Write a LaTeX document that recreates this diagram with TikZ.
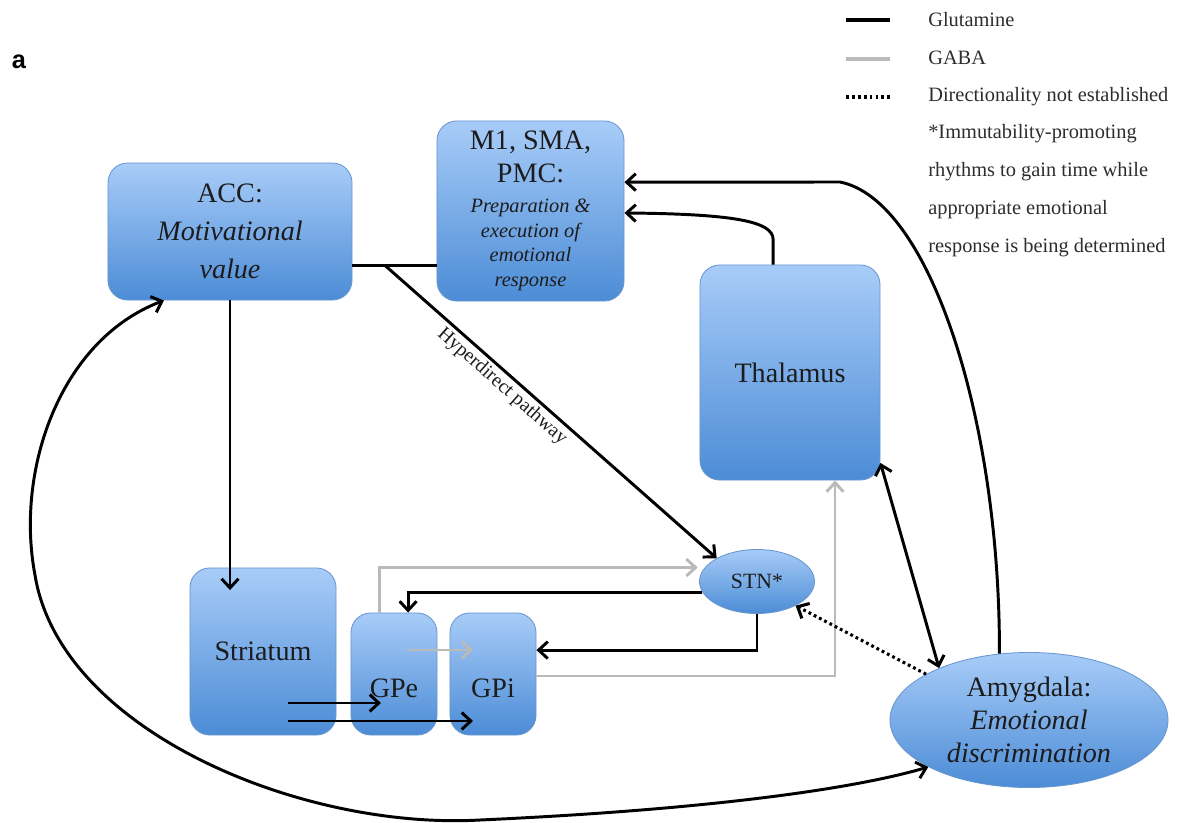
\documentclass[tikz,border=0pt]{standalone}
\usepackage{fontspec}
\setmainfont{Liberation Serif}
\newfontfamily\panelfont{Liberation Sans}
\usetikzlibrary{arrows.meta,shapes.geometric}
\definecolor{boxtop}{RGB}{168,204,248}
\definecolor{boxbot}{RGB}{76,140,214}
\definecolor{boxedge}{RGB}{104,150,206}
\definecolor{gabagray}{RGB}{186,186,186}
\definecolor{inktext}{RGB}{28,28,28}
\definecolor{legendtext}{RGB}{45,45,45}
\newcommand{\mlarge}{\fontsize{20}{17.7}\selectfont}
\newcommand{\msmall}{\fontsize{14.5}{17.7}\selectfont\itshape}

\begin{document}
\begin{tikzpicture}[x=0.025cm, y=-0.025cm,
    region/.style={rectangle,rounded corners=14pt,draw=boxedge,line width=0.6pt,
      top color=boxtop,bottom color=boxbot,text=inktext,align=center,inner sep=0pt},
    nucleus/.style={ellipse,draw=boxedge,line width=0.6pt,
      top color=boxtop,bottom color=boxbot,text=inktext,align=center,inner sep=0pt},
    big/.style={font=\fontsize{20}{27}\selectfont},
    tip/.style={-{Straight Barb[length=6.5pt,width=12pt]}},
    glu/.style={tip,line width=2.1pt,draw=black},
    gaba/.style={glu,draw=gabagray},
    undirected/.style={glu,dash pattern=on 2pt off 2.2pt,line width=2.2pt},
    both/.style={{Straight Barb[length=6.5pt,width=12pt]}-{Straight Barb[length=6.5pt,width=12pt]}},
    legend/.style={anchor=west,text=legendtext,font=\fontsize{14.5}{16}\selectfont,inner sep=0pt}]
  \useasboundingbox (0,0) rectangle (1183,822);

  % panel letter
  \node[font=\panelfont\bfseries\fontsize{18}{20}\selectfont] (panel) at (19,62) {a};

  % regions
  \node[region,big,minimum width=6.1cm,minimum height=3.425cm] (acc) at (230,231.5)
    {ACC:\\\itshape Motivational\\\itshape value};
  \node[region,minimum width=4.675cm,minimum height=4.5cm,
    font=\fontsize{14.5}{17.7}\selectfont] (m1) at (530.5,211)
    {\mlarge M1, SMA,\\[5.7pt]\mlarge PMC:\\[3.5pt]
     \msmall Preparation \&\\\msmall execution of\\\msmall emotional\\\msmall response};
  \node[region,big,minimum width=4.5cm,minimum height=5.375cm] (thal) at (790,372.5) {Thalamus};
  \node[region,big,minimum width=3.65cm,minimum height=4.175cm] (stri) at (263,651.5) {Striatum};
  \node[region,minimum width=2.15cm,minimum height=3.05cm] (gpe) at (394,674) {};
  \node[region,minimum width=2.15cm,minimum height=3.05cm] (gpi) at (493,674) {};
  \node[big,text=inktext] (gpetext) at (394,688) {GPe};
  \node[big,text=inktext] (gpitext) at (493,688) {GPi};
  \node[nucleus,minimum width=2.875cm,minimum height=1.6cm,
    font=\fontsize{15.5}{18}\selectfont] (stn) at (757,581.5) {STN*};
  \node[nucleus,minimum width=6.95cm,minimum height=3.375cm,
    font=\fontsize{20}{23.5}\selectfont] (amyg) at (1029,720)
    {Amygdala:\\\itshape Emotional\\\itshape discrimination};

  % helper points
  \coordinate (accout) at ([yshift=-24pt]acc.east);
  \coordinate (hyper) at ([xshift=23pt]accout);
  \coordinate (stritop) at ([yshift=-16pt]stri.north);
  \coordinate (m1upper) at ([yshift=20.5pt]m1.east);
  \coordinate (m1lower) at ([yshift=-1.4pt]m1.east);
  \coordinate (s1) at (288,703);
  \coordinate (s2) at (288,721);
  \coordinate (gpeend) at (381,703);
  \coordinate (gpiend) at (473,721);
  \coordinate (gpeout) at (407,650);
  \coordinate (gpiin) at (473,650);

  % glutamatergic
  \draw[glu] (acc.south) -- (acc.south |- stritop);
  \draw[line width=2.1pt] (accout) -- (accout -| m1.west);
  \draw[glu] (hyper) -- (stn.150)
    node[sloped,below,pos=0.38,inner sep=2pt,text=inktext,
      font=\fontsize{14}{16}\selectfont] (hyperlabel) {Hyperdirect pathway};
  \draw[glu] ([xshift=-12pt]thal.north) -- ++(0,-25)
    .. controls +(0,-18) and (735,214) .. (m1lower);
  \draw[glu] (amyg.114) .. controls (1000,420) and (930,200) .. (840,182) -- (m1upper);
  \draw[glu,both] (thal.-45) -- (amyg.150);
  \draw[glu,both]
    ([xshift=-47pt]acc.south) .. controls (60,340) and (15,470) .. (35,575)
    .. controls (60,730) and (300,830) .. (480,820)
    .. controls (700,810) and (850,790) .. (amyg.205);
  \draw[glu] (stn.191) -| ([xshift=10pt]gpe.north);
  \draw[glu] (stn.south) |- ([yshift=17pt]gpi.east);
  \draw[glu] (s1) -- (gpeend);
  \draw[glu] (s2) -- (gpiend);

  % GABAergic
  \draw[gaba] ([xshift=-10pt]gpe.north) |- ([xshift=-5pt]stn.165);
  \draw[gaba] ([yshift=-1.4pt]gpi.east) -| ([xshift=32pt]thal.south);
  \draw[gaba] (gpeout) -- (gpiin);

  % not established
  \draw[undirected] (amyg.156) -- (stn.-32);

  % legend
  \draw[line width=2.2pt] (846,20) -- (890,20);
  \draw[line width=2.2pt,gabagray] (846,59) -- (890,59);
  \draw[line width=2.2pt,dash pattern=on 2pt off 2.2pt] (846,97) -- (890,97);
  \node[legend] (lglu) at (928,20) {Glutamine};
  \node[legend] (lgaba) at (928,58) {GABA};
  \node[legend] (ldir) at (928,97) {Directionality not established};
  \node[legend] (note1) at (928,134) {*Immutability-promoting};
  \node[legend] (note2) at (928,172) {rhythms to gain time while};
  \node[legend] (note3) at (928,210) {appropriate emotional};
  \node[legend] (note4) at (928,248) {response is being determined};
\end{tikzpicture}
\end{document}
